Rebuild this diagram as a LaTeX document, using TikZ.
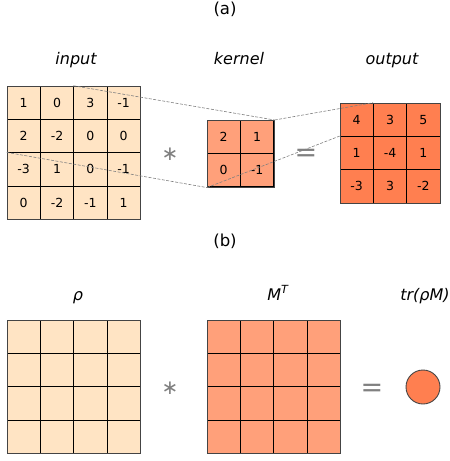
\documentclass[tikz,border=0pt]{standalone}
\usepackage{fontspec}
\setmainfont{DejaVu Sans}
\usetikzlibrary{calc}
\definecolor{cin}{HTML}{FFE4C4}
\definecolor{cker}{HTML}{FFA07A}
\definecolor{cout}{HTML}{FF7F50}
\definecolor{frame}{HTML}{444444}
\definecolor{opgray}{HTML}{808080}
\tikzset{
  cellbox/.style={draw=black, line width=0.6pt, minimum size=33.33pt, inner sep=0pt, font=\fontsize{12.5}{14}\selectfont},
  framebox/.style={draw=frame, line width=0.9pt, inner sep=0pt, anchor=north west},
  label/.style={font=\fontsize{16}{18}\selectfont\itshape, anchor=base},
  title/.style={font=\fontsize{16.5}{18}\selectfont, anchor=base},
  opsym/.style={text=opgray, font=\fontsize{20}{22}\selectfont},
  eqsym/.style={text=opgray, font=\fontsize{27}{29}\selectfont},
  guide/.style={draw=opgray, line width=0.6pt, dash pattern=on 3pt off 1.5pt}
}
\begin{document}
\begin{tikzpicture}[x=1pt,y=-1pt]
\useasboundingbox (0,0) rectangle (450,461);
% (a)
\node[title] (ta) at (225,14) {(a)};
\node[label] (linp) at (76,64) {input};
\node[label] (lker) at (239,64) {kernel};
\node[label] (lout) at (392,64) {output};
% input grid
\foreach \row [count=\r from 0] in {{1,0,3,-1},{2,-2,0,0},{-3,1,0,-1},{0,-2,-1,1}}{
  \foreach \v [count=\c from 0] in \row {
    \node[cellbox, fill=cin] (i-\r-\c) at ({7+33.33*(\c+0.5)},{86+33.33*(\r+0.5)}) {\v};
  }
}
\node[framebox, minimum size=133.33pt] (inp) at (7,86) {};
% kernel grid
\foreach \row [count=\r from 0] in {{2,1},{0,-1}}{
  \foreach \v [count=\c from 0] in \row {
    \node[cellbox, fill=cker] (k-\r-\c) at ({207+33.33*(\c+0.5)},{120+33.33*(\r+0.5)}) {\v};
  }
}
\node[framebox, minimum size=66.67pt] (ker) at (207,120) {};
% output grid
\foreach \row [count=\r from 0] in {{4,3,5},{1,-4,1},{-3,3,-2}}{
  \foreach \v [count=\c from 0] in \row {
    \node[cellbox, fill=cout] (o-\r-\c) at ({340+33.33*(\c+0.5)},{103+33.33*(\r+0.5)}) {\v};
  }
}
\node[framebox, minimum size=100pt] (out) at (340,103) {};
% guide lines
\draw[guide] (i-0-2.north west) -- (ker.north east);
\draw[guide] (i-2-0.north west) -- (ker.south west);
\draw[guide] (ker.north east) -- (o-0-1.north west);
\draw[guide] (ker.south west) -- (o-1-0.north west);
\node[opsym] (ast1) at (170,154) {∗};
\node[eqsym] (eq1) at (306,155) {=};
% (b)
\node[title] (tb) at (225,246) {(b)};
\node[label] (lrho) at (78,300) {ρ};
\node[label] (lm) at (278,300) {M\textsuperscript{T}};
\node[label] (ltr) at (425,300) {tr(ρM)};
\foreach \r in {0,...,3}{
  \foreach \c in {0,...,3}{
    \node[cellbox, fill=cin] (p-\r-\c) at ({7+33.33*(\c+0.5)},{320+33.33*(\r+0.5)}) {};
    \node[cellbox, fill=cker] (m-\r-\c) at ({207+33.33*(\c+0.5)},{320+33.33*(\r+0.5)}) {};
  }
}
\node[framebox, minimum size=133.33pt] (rho) at (7,320) {};
\node[framebox, minimum size=133.33pt] (mt) at (207,320) {};
\node[opsym] (ast2) at (170,388) {∗};
\node[eqsym] (eq2) at (372,390) {=};
\node[circle, draw=frame, line width=0.9pt, fill=cout, minimum size=34pt, inner sep=0pt] (res) at (423,387) {};
\end{tikzpicture}
\end{document}
